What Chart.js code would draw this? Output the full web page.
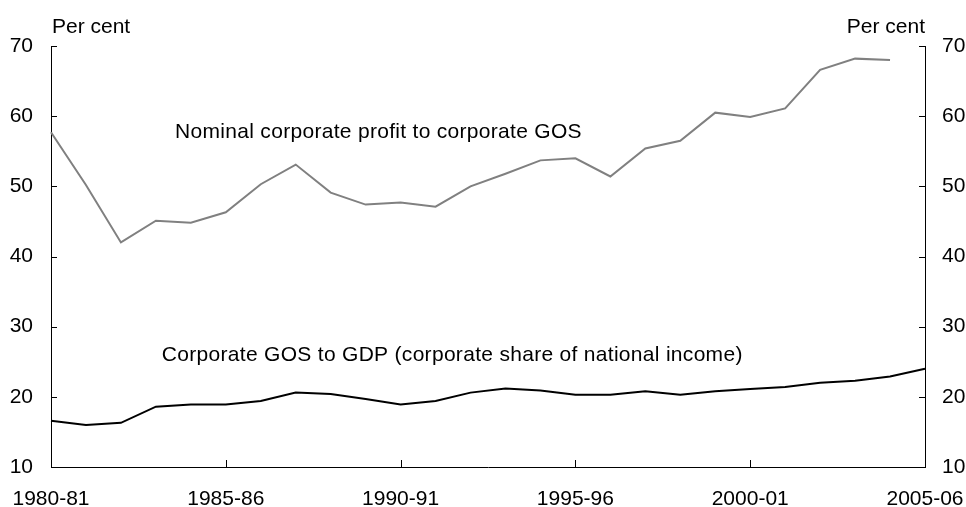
<!DOCTYPE html>
<html>
<head>
<meta charset="utf-8">
<script src="https://cdn.jsdelivr.net/npm/chart.js@4/dist/chart.umd.min.js"></script>
<style>
  html, body { margin: 0; padding: 0; background: #fff; }
  #wrap { width: 966px; height: 507px; position: relative; }
</style>
</head>
<body>
<div id="wrap"><canvas id="chart" width="966" height="507"></canvas></div>
<script>
// financial years on the x axis
const years = [
  "1980-81", "1981-82", "1982-83", "1983-84", "1984-85", "1985-86",
  "1986-87", "1987-88", "1988-89", "1989-90", "1990-91", "1991-92",
  "1992-93", "1993-94", "1994-95", "1995-96", "1996-97", "1997-98",
  "1998-99", "1999-00", "2000-01", "2001-02", "2002-03", "2003-04",
  "2004-05", "2005-06",
];

// nominal corporate profit / corporate GOS (no 2005-06 value)
const profitToGos = [
  57.7, 50.2, 42.0, 45.1, 44.8, 46.3, 50.3, 53.1, 49.1, 47.4, 47.7, 47.1,
  50.0, 51.8, 53.7, 54.0, 51.4, 55.4, 56.5, 60.5, 59.9, 61.1, 66.6, 68.2,
  68.0, null,
];

// corporate GOS / GDP
const gosToGdp = [
  16.6, 16.0, 16.3, 18.6, 18.9, 18.9, 19.4, 20.6, 20.4, 19.7, 18.9, 19.4,
  20.6, 21.2, 20.9, 20.3, 20.3, 20.8, 20.3, 20.8, 21.1, 21.4, 22.0, 22.3,
  22.9, 24.0,
];

const yTicks = [10, 20, 30, 40, 50, 60, 70];
const unitLabel = "Per cent";

const seriesNames = [
  "Nominal corporate profit to corporate GOS",
  "Corporate GOS to GDP (corporate share of national income)",
];

const FONT = "'Liberation Sans', Arial, sans-serif";
const FSIZE = 21;

// where the in-chart series names sit (category index, value)
const nameAnchors = [
  { x: 3.55, y: 57.7 },
  { x: 3.17, y: 26.0 },
];

// inward tick marks + text labels
const decorations = {
  id: "decorations",
  afterDraw(chart) {
    const ctx = chart.ctx;
    const a = chart.chartArea;
    const xs = chart.scales.x;
    const ys = chart.scales.y;
    ctx.save();
    ctx.strokeStyle = "#000";
    ctx.lineWidth = 1;
    ctx.beginPath();
    yTicks.forEach((v) => {
      const py = Math.round(ys.getPixelForValue(v)) + 0.5;
      ctx.moveTo(a.left, py);
      ctx.lineTo(a.left + 6, py);
      ctx.moveTo(a.right, py);
      ctx.lineTo(a.right - 6, py);
    });
    years.forEach((y, i) => {
      if (i % 5 !== 0) return;
      const px = Math.round(xs.getPixelForValue(i)) + 0.5;
      ctx.moveTo(px, a.bottom);
      ctx.lineTo(px, a.bottom - 7);
    });
    ctx.stroke();

    ctx.fillStyle = "#000";
    ctx.font = FSIZE + "px " + FONT;
    ctx.textBaseline = "alphabetic";
    ctx.textAlign = "left";
    ctx.fillText(unitLabel, a.left + 1, 33);
    ctx.textAlign = "right";
    ctx.fillText(unitLabel, a.right, 33);

    ctx.textAlign = "left";
    ctx.textBaseline = "middle";
    ctx.letterSpacing = "0.3px";
    seriesNames.forEach((name, i) => {
      const p = nameAnchors[i];
      ctx.fillText(name, xs.getPixelForValue(p.x), ys.getPixelForValue(p.y));
    });
    ctx.restore();
  },
};

new Chart(document.getElementById("chart"), {
  type: "line",
  data: {
    labels: years,
    datasets: [
      {
        label: seriesNames[0],
        data: profitToGos,
        borderColor: "#808080",
        borderWidth: 2,
        pointRadius: 0,
        tension: 0,
        yAxisID: "y",
      },
      {
        label: seriesNames[1],
        data: gosToGdp,
        borderColor: "#000",
        borderWidth: 2,
        pointRadius: 0,
        tension: 0,
        yAxisID: "y",
      },
    ],
  },
  options: {
    responsive: false,
    animation: false,
    layout: { padding: { top: 46, left: 0, right: 0, bottom: 0 } },
    plugins: {
      legend: { display: false },
      tooltip: { enabled: false },
    },
    scales: {
      x: {
        type: "category",
        offset: false,
        grid: { display: false, drawTicks: false },
        border: { display: true, color: "#000", width: 1 },
        ticks: {
          autoSkip: false,
          maxRotation: 0,
          minRotation: 0,
          padding: 20,
          color: "#000",
          font: { family: FONT, size: FSIZE },
          callback: (v, i) => (i % 5 === 0 ? years[i] : ""),
        },
        afterFit: (s) => {
          s.height = 40;
          s.paddingLeft = 0;
          s.paddingRight = 0;
        },
      },
      y: {
        position: "left",
        min: 10,
        max: 70,
        grid: { display: false, drawTicks: false },
        border: { display: true, color: "#000", width: 1 },
        ticks: {
          stepSize: 10,
          padding: 18,
          color: "#000",
          font: { family: FONT, size: FSIZE },
        },
        afterFit: (s) => {
          s.width = 51;
          s.paddingTop = 0;
          s.paddingBottom = 0;
        },
      },
      y2: {
        position: "right",
        min: 10,
        max: 70,
        grid: { display: false, drawTicks: false },
        border: { display: true, color: "#000", width: 1 },
        ticks: {
          stepSize: 10,
          padding: 17,
          color: "#000",
          font: { family: FONT, size: FSIZE },
        },
        afterFit: (s) => {
          s.width = 41;
          s.paddingTop = 0;
          s.paddingBottom = 0;
        },
      },
    },
  },
  plugins: [decorations],
});
</script>
</body>
</html>
